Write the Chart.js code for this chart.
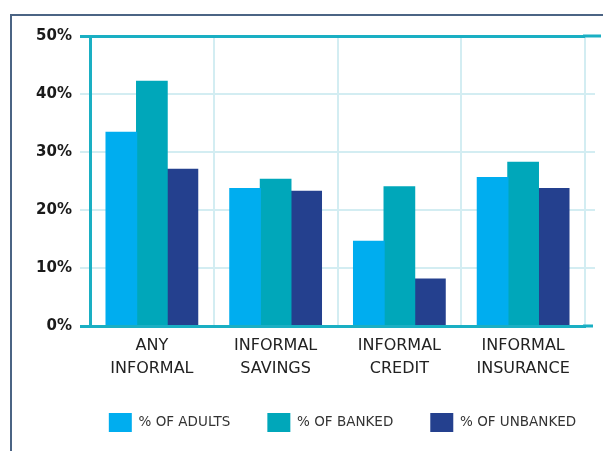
<!DOCTYPE html>
<html>
<head>
<meta charset="utf-8">
<script src="https://cdn.jsdelivr.net/npm/chart.js@4/dist/chart.umd.min.js"></script>
<style>
  html, body { margin: 0; padding: 0; background: #fff; }
  canvas { display: block; }
</style>
</head>
<body>
<canvas id="chart" width="603" height="451"></canvas>
<script>
const categories = [["ANY", "INFORMAL"], ["INFORMAL", "SAVINGS"], ["INFORMAL", "CREDIT"], ["INFORMAL", "INSURANCE"]];
const seriesNames = ["% OF ADULTS", "% OF BANKED", "% OF UNBANKED"];
const adults = [33.4, 23.7, 14.6, 25.6];
const banked = [42.2, 25.3, 24.0, 28.2];
const unbanked = [27.0, 23.2, 8.1, 23.7];
const yMin = 0;
const yMax = 50;
const yStep = 10;

const TEAL = "#1aafc3";
const GRID = "#d3edf2";

// frame lines, legend nudge, gridline extensions past the plot area
const extras = {
  id: "extras",
  afterLayout(chart) {
    const lg = chart.legend;
    if (lg) { lg.left += 50; lg.right += 50; }
  },
  beforeDraw(chart) {
    const ctx = chart.ctx;
    ctx.save();
    ctx.strokeStyle = "#4b6484";
    ctx.lineWidth = 2;
    ctx.beginPath();
    ctx.moveTo(11, chart.height);
    ctx.lineTo(11, 15);
    ctx.lineTo(chart.width, 15);
    ctx.stroke();
    ctx.restore();
  },
  afterDraw(chart) {
    const ctx = chart.ctx;
    const y = chart.scales.y;
    const right = chart.chartArea.right;
    ctx.save();
    y.ticks.forEach((t) => {
      const py = y.getPixelForValue(t.value);
      if (t.value === yMax) {
        ctx.strokeStyle = TEAL; ctx.lineWidth = 3;
        ctx.beginPath(); ctx.moveTo(right - 2, py); ctx.lineTo(right + 16, py); ctx.stroke();
      } else if (t.value === yMin) {
        ctx.strokeStyle = TEAL; ctx.lineWidth = 3;
        ctx.beginPath(); ctx.moveTo(right - 2, py); ctx.lineTo(right + 8, py); ctx.stroke();
      } else {
        ctx.strokeStyle = GRID; ctx.lineWidth = 2;
        ctx.beginPath(); ctx.moveTo(right, py); ctx.lineTo(right + 10, py); ctx.stroke();
      }
    });
    ctx.restore();
  }
};

new Chart(document.getElementById("chart"), {
  type: "bar",
  data: {
    labels: categories,
    datasets: [
      { label: seriesNames[0], data: adults, backgroundColor: "#00adef" },
      { label: seriesNames[1], data: banked, backgroundColor: "#00a7ba" },
      { label: seriesNames[2], data: unbanked, backgroundColor: "#24408e" }
    ]
  },
  options: {
    responsive: false,
    animation: false,
    devicePixelRatio: 1,
    layout: { padding: { left: 0, right: 18, top: 36, bottom: 9 } },
    datasets: { bar: { categoryPercentage: 0.74, barPercentage: 1, borderWidth: 0, inflateAmount: 0.6 } },
    plugins: {
      tooltip: { enabled: false },
      legend: {
        position: "bottom",
        labels: {
          boxWidth: 23,
          boxHeight: 19,
          padding: 37,
          color: "#333",
          font: { family: "DejaVu Sans", size: 13.5 }
        }
      }
    },
    scales: {
      x: {
        afterFit: (s) => { s.height = 50; },
        grid: { color: GRID, lineWidth: 2, drawTicks: false },
        border: { color: TEAL, width: 3 },
        ticks: {
          padding: 8,
          color: "#222",
          maxRotation: 0,
          font: { family: "DejaVu Sans", size: 16, lineHeight: 1.45 }
        }
      },
      y: {
        min: yMin,
        max: yMax,
        afterFit: (s) => { s.width = 90; },
        grid: {
          color: (c) => (c.tick && (c.tick.value === yMax || c.tick.value === yMin) ? TEAL : GRID),
          lineWidth: (c) => (c.tick && (c.tick.value === yMax || c.tick.value === yMin) ? 3 : 2),
          tickLength: 10
        },
        border: { color: TEAL, width: 3 },
        ticks: {
          stepSize: yStep,
          padding: 8,
          color: "#1a1a1a",
          font: { family: "DejaVu Sans", size: 15, weight: "bold" },
          callback: (v) => v + "%"
        }
      }
    }
  },
  plugins: [extras]
});
</script>
</body>
</html>
